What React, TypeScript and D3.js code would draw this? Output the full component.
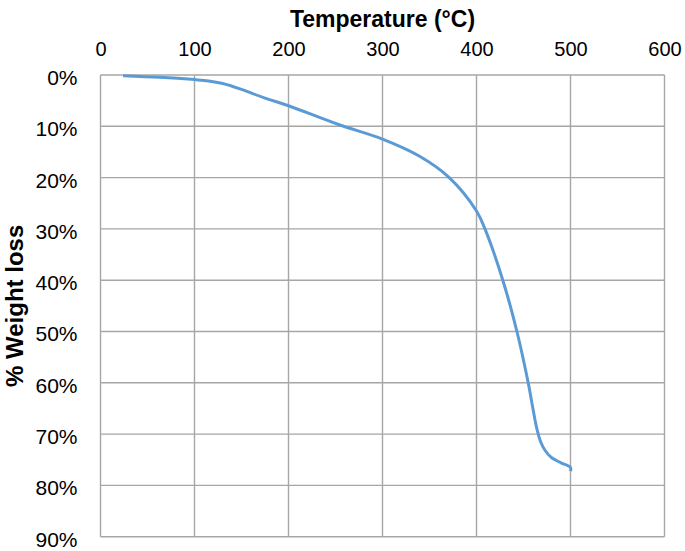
import * as d3 from "d3"
import React from "react"

// TGA curve
const temperature = [24, 63, 100, 115, 130, 150, 175, 200, 254, 300, 339, 371, 400, 409, 428, 443, 455, 460, 464, 468, 473, 480, 490, 500, 500]
const weightLoss = [0.13, 0.45, 0.9, 1.15, 1.65, 2.8, 4.5, 6.0, 9.7, 12.5, 15.8, 20, 26.5, 30, 40, 50, 60, 65, 68.8, 71.4, 73.2, 74.6, 75.6, 76.5, 77.2]

const xTicks = [0, 100, 200, 300, 400, 500, 600]
const yTicks = [0, 10, 20, 30, 40, 50, 60, 70, 80, 90]

const xTitle = "Temperature (°C)"
const yTitle = "% Weight loss"

const width = 685
const height = 551
const margin = { top: 75, right: 20.5, bottom: 14.3, left: 100.5 }
const gridColor = "#a6a6a6"
const lineColor = "#5b9bd5"

const drawChart = (node: SVGSVGElement) => {
  const svg = d3.select(node)
  svg.selectAll("*").remove()

  const x = d3.scaleLinear([0, 600], [margin.left, width - margin.right])
  const y = d3.scaleLinear([0, 90], [margin.top, height - margin.bottom])

  const data = temperature.map((t, i) => ({ t, w: weightLoss[i] }))

  // vertical grid
  svg.append("g")
    .selectAll("line")
    .data(xTicks)
    .join("line")
    .attr("x1", (d) => x(d))
    .attr("x2", (d) => x(d))
    .attr("y1", y(0))
    .attr("y2", y(90))
    .attr("stroke", gridColor)
    .attr("stroke-width", 1.4)

  // horizontal grid
  svg.append("g")
    .selectAll("line")
    .data(yTicks)
    .join("line")
    .attr("x1", x(0))
    .attr("x2", x(600))
    .attr("y1", (d) => y(d))
    .attr("y2", (d) => y(d))
    .attr("stroke", gridColor)
    .attr("stroke-width", 1.4)

  // top axis (labels only)
  svg.append("g")
    .attr("transform", `translate(0,${margin.top})`)
    .call(d3.axisTop(x).tickValues(xTicks).tickSize(0).tickPadding(19).tickFormat((d: any) => String(d)))
    .call((g: any) => g.select(".domain").remove())
    .call((g: any) => g.selectAll("text")
      .attr("font-family", "'Liberation Sans', Arial, sans-serif")
      .attr("font-size", 20)
      .attr("fill", "#000"))

  // left axis (labels only)
  svg.append("g")
    .attr("transform", `translate(${margin.left},0)`)
    .call(d3.axisLeft(y).tickValues(yTicks).tickSize(0).tickPadding(23).tickFormat((d: any) => `${d}%`))
    .call((g: any) => g.select(".domain").remove())
    .call((g: any) => g.selectAll("text")
      .attr("font-family", "'Liberation Sans', Arial, sans-serif")
      .attr("font-size", 21)
      .attr("dy", "0.45em")
      .attr("fill", "#000"))

  // curve
  const line = d3.line<any>()
    .x((d) => x(d.t))
    .y((d) => y(d.w))
    .curve(d3.curveCatmullRom.alpha(0.5))

  svg.append("path")
    .datum(data)
    .attr("d", line)
    .attr("fill", "none")
    .attr("stroke", lineColor)
    .attr("stroke-width", 3)
    .attr("stroke-linejoin", "round")

  // axis titles
  svg.append("text")
    .attr("x", (x(0) + x(600)) / 2)
    .attr("y", 27)
    .attr("text-anchor", "middle")
    .attr("font-family", "'Liberation Sans', Arial, sans-serif")
    .attr("font-weight", "bold")
    .attr("font-size", 23)
    .text(xTitle)

  svg.append("text")
    .attr("transform", `translate(23,${(y(0) + y(90)) / 2}) rotate(-90)`)
    .attr("text-anchor", "middle")
    .attr("font-family", "'Liberation Sans', Arial, sans-serif")
    .attr("font-weight", "bold")
    .attr("font-size", 24)
    .text(yTitle)
}

const App = () => {
  const ref = React.useRef<SVGSVGElement>(null)

  React.useEffect(() => {
    if (ref.current) drawChart(ref.current)
  }, [])

  return (
    <svg
      ref={ref}
      width={width}
      height={height}
      style={{ position: "absolute", left: 0, top: 0, background: "#fff" }}
    />
  )
}

export default App
